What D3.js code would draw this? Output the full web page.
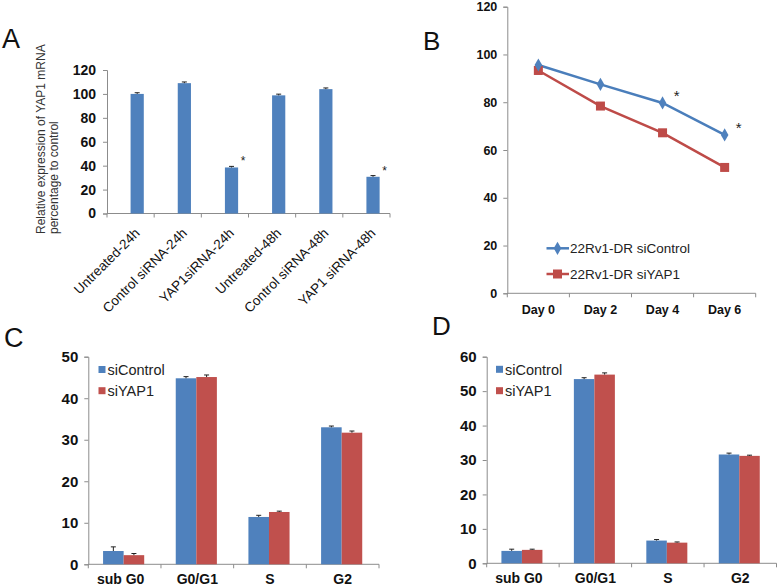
<!DOCTYPE html>
<html>
<head>
<meta charset="utf-8">
<script src="https://cdn.jsdelivr.net/npm/d3@7"></script>
<style>
html,body{margin:0;padding:0;background:#fff;}
svg{display:block;}
</style>
</head>
<body>
<svg id="chart" width="778" height="586"></svg>
<script>
// ---------- DATA ----------
const catsA = ["Untreated-24h","Control siRNA-24h","YAP1siRNA-24h","Untreated-48h","Control siRNA-48h","YAP1 siRNA-48h"];
const valsA = [100, 109, 38.5, 98.8, 104, 30.7];
const errA  = [1.0, 1.0, 0.9, 1.0, 1.0, 1.0];
const sigA  = [false, false, true, false, false, true];
const ticksA = [0, 20, 40, 60, 80, 100, 120];

const daysB = ["Day 0","Day 2","Day 4","Day 6"];
const ctrlB = [95.6, 87.5, 79.7, 66.3];
const yapB  = [93.3, 78.4, 67.2, 52.7];
const sigB  = [false, false, true, true];
const ticksB = [0, 20, 40, 60, 80, 100, 120];
const legendB = ["22Rv1-DR siControl", "22Rv1-DR siYAP1"];

const phases = ["sub G0","G0/G1","S","G2"];
const seriesNames = ["siControl","siYAP1"];
const ctrlC = [3.2, 44.8, 11.4, 33.0];
const yapC  = [2.2, 45.1, 12.6, 31.7];
const errCtrlC = [1.0, 0.4, 0.4, 0.3];
const errYapC  = [0.4, 0.5, 0.2, 0.4];
const ticksC = [0, 10, 20, 30, 40, 50];

const ctrlD = [3.6, 53.5, 6.6, 31.6];
const yapD  = [3.9, 54.8, 6.0, 31.2];
const errCtrlD = [0.5, 0.4, 0.3, 0.4];
const errYapD  = [0.2, 0.5, 0.2, 0.2];
const ticksD = [0, 10, 20, 30, 40, 50, 60];

// ---------- STYLE ----------
const FONT = "'Liberation Sans', Arial, Helvetica, sans-serif";
const BLUE = "#4F81BD", RED = "#C0504D";
const BLUE_LINE = "#4A7EBB", RED_LINE = "#BE4B48";
const AXIS = "#8c8c8c";

const svg = d3.select("#chart");
svg.append("rect").attr("width",778).attr("height",586).attr("fill","#fff");

function yAxis(g, y, x0, ticks, fontSize, pad) {
  const ax = d3.axisLeft(y).tickValues(ticks).tickSize(4).tickPadding(pad).tickFormat(d3.format("d"));
  const a = g.append("g").attr("transform", `translate(${x0},0)`).call(ax);
  a.select(".domain").attr("stroke", AXIS).attr("stroke-width", 1);
  a.selectAll(".tick line").attr("stroke", AXIS);
  a.selectAll(".tick text").attr("fill", "#111").style("font-family", FONT)
    .style("font-size", fontSize + "px").style("font-weight", "bold");
  return a;
}
function xAxisBand(g, x, yPos) {
  const r = x.range();
  g.append("line").attr("x1", r[0]).attr("x2", r[1]).attr("y1", yPos).attr("y2", yPos)
    .attr("stroke", AXIS).attr("stroke-width", 1);
  const bounds = x.domain().map(d => x(d)).concat([r[1]]);
  g.selectAll(null).data(bounds).enter().append("line")
    .attr("x1", d => d).attr("x2", d => d).attr("y1", yPos).attr("y2", yPos + 4)
    .attr("stroke", AXIS).attr("stroke-width", 1);
}
function errBar(g, cx, yTop, yErr) {
  g.append("line").attr("x1", cx).attr("x2", cx).attr("y1", yTop).attr("y2", yErr)
    .attr("stroke", "#222").attr("stroke-width", 1);
  g.append("line").attr("x1", cx - 2.5).attr("x2", cx + 2.5).attr("y1", yErr).attr("y2", yErr)
    .attr("stroke", "#222").attr("stroke-width", 1);
}
function panelLabel(text, x, y, size) {
  svg.append("text").attr("x", x).attr("y", y).text(text)
    .style("font-family", FONT).style("font-size", size + "px").attr("fill", "#111");
}

// ---------- PANEL A ----------
{
  const g = svg.append("g");
  const x = d3.scaleBand().domain(catsA).range([107, 390]).padding(0);
  const y = d3.scaleLinear().domain([0, 120]).range([213.5, 70]);
  yAxis(g, y, 107, ticksA, 14, 7);
  xAxisBand(g, x, y(0));
  const bw = x.bandwidth() * 0.28;
  const cxOf = c => x(c) + x.bandwidth() * 0.64;
  catsA.forEach((c, i) => {
    g.append("rect").attr("x", cxOf(c) - bw / 2).attr("y", y(valsA[i]))
      .attr("width", bw).attr("height", y(0) - y(valsA[i])).attr("fill", BLUE);
    errBar(g, cxOf(c), y(valsA[i]), y(valsA[i] + errA[i]));
    if (sigA[i]) {
      g.append("text").attr("x", cxOf(c) + bw / 2 + 5).attr("y", y(valsA[i]) - 2)
        .attr("text-anchor", "middle").text("*")
        .style("font-family", FONT).style("font-size", "12px").attr("fill", "#222");
    }
    g.append("text")
      .attr("transform", `translate(${x(c) + x.bandwidth() / 2 + 10},${234}) rotate(-45)`)
      .attr("text-anchor", "end").text(c)
      .style("font-family", FONT).style("font-size", "13.5px").attr("fill", "#111");
  });
  const t = g.append("text").attr("transform", "translate(45,234) rotate(-90)")
    .style("font-family", FONT).style("font-size", "12px").attr("fill", "#333");
  t.append("tspan").attr("x", 0).attr("y", 0).text("Relative expression of YAP1 mRNA");
  t.append("tspan").attr("x", 0).attr("y", 13).text("percentage to control");
  panelLabel("A", 2, 48, 27);
}

// ---------- PANEL B ----------
{
  const g = svg.append("g");
  const x = d3.scaleBand().domain(daysB).range([507.3, 755.7]).padding(0);
  const y = d3.scaleLinear().domain([0, 120]).range([293.3, 6.7]);
  yAxis(g, y, 507.3, ticksB, 12.5, 6);
  xAxisBand(g, x, y(0));
  const cx = d => x(d) + x.bandwidth() / 2;
  g.selectAll(null).data(daysB).enter().append("text")
    .attr("x", d => cx(d)).attr("y", 314).attr("text-anchor", "middle").text(d => d)
    .style("font-family", FONT).style("font-size", "12.5px").style("font-weight", "bold").attr("fill", "#111");
  const line = d3.line().x((d, i) => cx(daysB[i])).y(d => y(d));
  g.append("path").datum(yapB).attr("d", line).attr("fill", "none").attr("stroke", RED_LINE).attr("stroke-width", 2.5);
  g.append("path").datum(ctrlB).attr("d", line).attr("fill", "none").attr("stroke", BLUE_LINE).attr("stroke-width", 2.5);
  yapB.forEach((v, i) => {
    g.append("rect").attr("x", cx(daysB[i]) - 4.5).attr("y", y(v) - 4.5).attr("width", 9).attr("height", 9).attr("fill", RED_LINE);
  });
  const diamond = d3.symbol().type(d3.symbolDiamond).size(50);
  ctrlB.forEach((v, i) => {
    g.append("path").attr("d", diamond).attr("transform", `translate(${cx(daysB[i])},${y(v)})`).attr("fill", BLUE);
    if (sigB[i]) {
      g.append("text").attr("x", cx(daysB[i]) + 14).attr("y", y(v) - 1.5).attr("text-anchor", "middle").text("*")
        .style("font-family", FONT).style("font-size", "15px").attr("fill", "#222");
    }
  });
  // legend
  const ly = [248.3, 274];
  const lcol = [BLUE_LINE, RED_LINE];
  legendB.forEach((name, i) => {
    g.append("line").attr("x1", 546.5).attr("x2", 569).attr("y1", ly[i]).attr("y2", ly[i]).attr("stroke", lcol[i]).attr("stroke-width", 2.5);
    if (i === 0) g.append("path").attr("d", diamond).attr("transform", `translate(557.5,${ly[i]})`).attr("fill", BLUE);
    else g.append("rect").attr("x", 553).attr("y", ly[i] - 4.5).attr("width", 9).attr("height", 9).attr("fill", RED_LINE);
    g.append("text").attr("x", 570).attr("y", ly[i] + 4.5).text(name)
      .style("font-family", FONT).style("font-size", "13.5px").attr("fill", "#222");
  });
  panelLabel("B", 423, 50, 26);
}

// ---------- PANELS C & D ----------
function groupedPanel(cfg) {
  const g = svg.append("g");
  const x = d3.scaleBand().domain(phases).range(cfg.xr).padding(0);
  const y = d3.scaleLinear().domain(cfg.ydom).range(cfg.yr);
  yAxis(g, y, cfg.xr[0], cfg.ticks, 15, 6);
  xAxisBand(g, x, y(0));
  const bw = x.bandwidth() * 0.283;
  const series = [cfg.ctrl, cfg.yap];
  const errs = [cfg.errCtrl, cfg.errYap];
  const cols = [BLUE, RED];
  phases.forEach((p, i) => {
    const gc = x(p) + x.bandwidth() / 2 - 1;
    series.forEach((s, k) => {
      const bx = gc - bw + k * bw;
      g.append("rect").attr("x", bx).attr("y", y(s[i])).attr("width", bw).attr("height", y(0) - y(s[i])).attr("fill", cols[k]);
      errBar(g, bx + bw / 2, y(s[i]), y(s[i] + errs[k][i]));
    });
    g.append("text").attr("x", x(p) + x.bandwidth() / 2 - (i === 0 ? 4 : 0)).attr("y", cfg.labelY).attr("text-anchor", "middle").text(p)
      .style("font-family", FONT).style("font-size", "14px").style("font-weight", "bold").attr("fill", "#111");
  });
  seriesNames.forEach((n, k) => {
    const cy = cfg.legY[k];
    g.append("rect").attr("x", cfg.legX).attr("y", cy - 3.5).attr("width", 7).attr("height", 7).attr("fill", cols[k]);
    g.append("text").attr("x", cfg.legX + 9).attr("y", cy + 5.5).text(n)
      .style("font-family", FONT).style("font-size", "14.5px").attr("fill", "#222");
  });
}
groupedPanel({ xr: [88.3, 379], ydom: [0, 50], yr: [564.3, 356.7], ticks: ticksC,
  ctrl: ctrlC, yap: yapC, errCtrl: errCtrlC, errYap: errYapC, labelY: 584, legX: 98.5, legY: [369.5, 390.7] });
panelLabel("C", 4, 347, 27);
groupedPanel({ xr: [486.7, 776.5], ydom: [0, 60], yr: [563.3, 356.7], ticks: ticksD,
  ctrl: ctrlD, yap: yapD, errCtrl: errCtrlD, errYap: errYapD, labelY: 583, legX: 496, legY: [369.3, 390.7] });
panelLabel("D", 432, 335, 26);
</script>
</body>
</html>
